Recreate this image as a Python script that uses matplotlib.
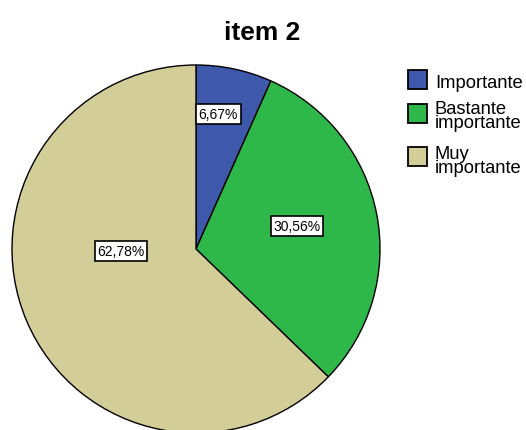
import matplotlib
matplotlib.use("Agg")
import matplotlib.pyplot as plt
from matplotlib.patches import Rectangle

plt.rcParams['font.family'] = ['Liberation Sans', 'DejaVu Sans']

categories = ["Importante", "Bastante\nimportante", "Muy\nimportante"]
values = [6.67, 30.56, 62.78]
pct_labels = ["6,67%", "30,56%", "62,78%"]
colors = ["#3E58AC", "#2EB84A", "#D3CE98"]
# label centres in pie-radius units
label_pos = [(0.12, 0.734), (0.549, 0.125), (-0.408, -0.011)]

W, H = 526, 431
fig = plt.figure(figsize=(W / 100, H / 100), dpi=100)

cx, cy, r = 196, 250, 184
ax = fig.add_axes([(cx - r) / W, (H - cy - r) / H, 2 * r / W, 2 * r / H])
ax.pie(values, colors=colors, startangle=90, counterclock=False, radius=1,
       wedgeprops=dict(edgecolor="black", linewidth=1.0))
ax.set_xlim(-1, 1)
ax.set_ylim(-1, 1)
ax.set_aspect("equal")
ax.axis("off")

for (x, y), t in zip(label_pos, pct_labels):
    ax.text(x, y, t, ha="center", va="center", fontsize=10,
            bbox=dict(boxstyle="square,pad=0.2", facecolor="white",
                      edgecolor="black", linewidth=1.2))

fig.text(262 / W, 1 - 40 / H, "item 2", ha="center", va="baseline",
         fontsize=19, fontweight="bold")

# legend
sq_tops = [71, 105, 148]
last_baselines = [88, 128, 173]
for top, base, lab, col in zip(sq_tops, last_baselines, categories, colors):
    fig.patches.append(Rectangle((408 / W, 1 - (top + 19) / H), 19 / W, 19 / H,
                                 transform=fig.transFigure, facecolor=col,
                                 edgecolor="black", linewidth=1.3))
    fig.text(435 / W, 1 - base / H, lab, ha="left", va="baseline",
             fontsize=13.2, linespacing=0.76)

fig.savefig("out.png", dpi=100)
